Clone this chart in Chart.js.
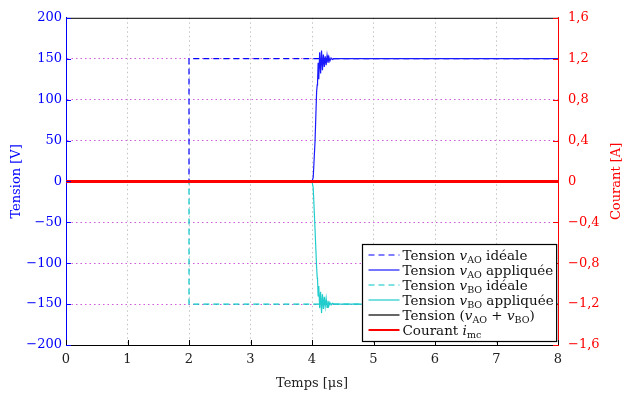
<!DOCTYPE html>
<html><head><meta charset="utf-8">
<script src="https://cdn.jsdelivr.net/npm/chart.js@4/dist/chart.umd.min.js"></script>
<style>html,body{margin:0;padding:0;background:#fff}</style>
</head><body>
<canvas id="c" width="626" height="394"></canvas>
<script>
// ---- data ----
const xTicks = [0,1,2,3,4,5,6,7,8];
const yTicksV = [-200,-150,-100,-50,0,50,100,150,200];
const yLabelsV = ['−200','−150','−100','−50','0','50','100','150','200'];
const yTicksA = [-1.6,-1.2,-0.8,-0.4,0,0.4,0.8,1.2,1.6];
const yLabelsA = ['−1,6','−1,2','−0,8','−0,4','0','0,4','0,8','1,2','1,6'];

const tIdeal   = [0, 2, 2, 8];
const vAOideal = [0, 0, 150, 150];
const vBOideal = [0, 0, -150, -150];

const tApplied   = [0, 4.0, 4.02, 4.05, 4.075, 4.085, 4.09, 4.10, 4.11, 4.125, 4.14, 4.155, 4.17, 4.185, 4.20, 4.215, 4.23, 4.245, 4.26, 4.275, 4.29, 4.31, 4.33, 4.36, 8];
const vAOapplied = [0, 0, 5, 50, 110, 118, 120, 145, 125, 158, 132, 160, 136, 155, 140, 153, 142, 154, 145, 152, 147, 151, 149, 150, 150];
const vBOapplied = [0, 0, -8, -60, -105, -118, -120, -140, -128, -155, -135, -161, -138, -156, -141, -153, -143, -154, -146, -152, -148, -151, -149, -150, -150];

const tSum = [0, 8];
const vSum = [0, 0];
const tCur = [0, 8];
const iCur = [0, 0];

const legendLabels = [
  [['Tension ','r'],['v','i'],['AO','s'],[' idéale','r']],
  [['Tension ','r'],['v','i'],['AO','s'],[' appliquée','r']],
  [['Tension ','r'],['v','i'],['BO','s'],[' idéale','r']],
  [['Tension ','r'],['v','i'],['BO','s'],[' appliquée','r']],
  [['Tension (','r'],['v','i'],['AO','s'],[' + ','r'],['v','i'],['BO','s'],[')','r']],
  [['Courant ','r'],['i','i'],['mc','s']]
];

const pts = (xs, ys) => xs.map((x, i) => ({x, y: ys[i]}));
const FONT = 'DejaVu Serif';
const FS = 13;
const LFS = 13.5;

const BLUE = '#0000ff', CYAN = '#00c4c4', RED = '#ff0000';

const datasets = [
  {data: pts(tCur, iCur), yAxisID: 'y1', borderColor: RED, borderWidth: 3, order: 0, legendIndex: 5},
  {data: pts(tSum, vSum), yAxisID: 'y', borderColor: '#000', borderWidth: 1.2, order: 1, legendIndex: 4},
  {data: pts(tApplied, vAOapplied), yAxisID: 'y', borderColor: '#1a1aff', borderWidth: 1.2, order: 2, legendIndex: 1},
  {data: pts(tApplied, vBOapplied), yAxisID: 'y', borderColor: '#20cccc', borderWidth: 1.2, order: 3, legendIndex: 3},
  {data: pts(tIdeal, vAOideal), yAxisID: 'y', borderColor: BLUE, borderWidth: 1.2, borderDash: [6,4], order: 4, legendIndex: 0},
  {data: pts(tIdeal, vBOideal), yAxisID: 'y', borderColor: CYAN, borderWidth: 1.2, borderDash: [6,4], order: 5, legendIndex: 2}
];
datasets.forEach(d => { d.showLine = true; d.pointRadius = 0; d.fill = false; d.tension = 0; d.legendParts = legendLabels[d.legendIndex]; });

const edgeTransparent = (skip, col) => ctx => (ctx.tick && skip.includes(ctx.tick.value)) ? 'rgba(0,0,0,0)' : col;

const tickPlugin = {
  id: 'innerTicks',
  afterDraw(chart) {
    const {ctx, chartArea: a, scales} = chart;
    ctx.save();
    ctx.lineWidth = 1;
    ctx.strokeStyle = '#000';
    ctx.beginPath(); ctx.moveTo(a.left, a.top + 0.5); ctx.lineTo(a.right, a.top + 0.5); ctx.stroke();
    xTicks.forEach(v => {
      const p = Math.round(scales.x.getPixelForValue(v)) + 0.5;
      ctx.beginPath(); ctx.moveTo(p, a.bottom); ctx.lineTo(p, a.bottom - 5); ctx.stroke();
    });
    ctx.strokeStyle = BLUE;
    yTicksV.forEach(v => {
      const p = Math.round(scales.y.getPixelForValue(v)) + 0.5;
      ctx.beginPath(); ctx.moveTo(a.left, p); ctx.lineTo(a.left + 5, p); ctx.stroke();
    });
    ctx.strokeStyle = RED;
    yTicksA.forEach(v => {
      const p = Math.round(scales.y1.getPixelForValue(v)) + 0.5;
      ctx.beginPath(); ctx.moveTo(a.right, p); ctx.lineTo(a.right - 5, p); ctx.stroke();
    });
    ctx.fillStyle = RED;
    ctx.font = FS + 'px "' + FONT + '"';
    ctx.translate(chart.width - 9, (a.top + a.bottom) / 2);
    ctx.rotate(-Math.PI / 2);
    ctx.textAlign = 'center';
    ctx.textBaseline = 'middle';
    ctx.fillText('Courant [A]', 0, 0);
    ctx.restore();
  }
};

const legendPlugin = {
  id: 'texLegend',
  afterDraw(chart) {
    const {ctx, chartArea: a} = chart;
    const items = chart.data.datasets.slice().sort((p, q) => p.legendIndex - q.legendIndex);
    const fonts = {r: LFS + 'px "' + FONT + '"', i: 'italic ' + LFS + 'px "' + FONT + '"', s: '9.5px "' + FONT + '"'};
    const widthOf = parts => parts.reduce((w, [t, s]) => { ctx.font = fonts[s]; return w + ctx.measureText(t).width; }, 0);
    ctx.save();
    const maxW = Math.max(...items.map(d => widthOf(d.legendParts)));
    const rowH = 15;
    const w = 6 + 31 + 3 + maxW + 3;
    const h = items.length * rowH + 7;
    const x0 = Math.round(a.right - 2 - w) + 0.5;
    const y0 = Math.round(a.bottom - 4 - h) + 0.5;
    ctx.fillStyle = '#fff';
    ctx.fillRect(x0, y0, w, h);
    ctx.strokeStyle = '#000'; ctx.lineWidth = 1.2;
    ctx.strokeRect(x0, y0, w, h);
    items.forEach((d, i) => {
      const cy = y0 + 3 + rowH * (i + 0.5);
      ctx.save();
      ctx.strokeStyle = d.borderColor;
      ctx.lineWidth = Math.min(d.borderWidth, 2);
      ctx.setLineDash(d.borderDash || []);
      ctx.beginPath(); ctx.moveTo(x0 + 6, cy); ctx.lineTo(x0 + 37, cy); ctx.stroke();
      ctx.restore();
      let x = x0 + 40;
      ctx.fillStyle = '#111';
      ctx.textBaseline = 'alphabetic';
      d.legendParts.forEach(([t, s]) => {
        ctx.font = fonts[s];
        ctx.fillText(t, x, cy + (s === 's' ? 7.5 : 4.5));
        x += ctx.measureText(t).width;
      });
    });
    ctx.restore();
  }
};

new Chart(document.getElementById('c'), {
  type: 'scatter',
  data: {datasets},
  options: {
    responsive: false,
    animation: false,
    devicePixelRatio: 1,
    layout: {padding: {top: 15, left: 0, right: 0, bottom: 0}},
    plugins: {legend: {display: false}, tooltip: {enabled: false}},
    scales: {
      x: {
        type: 'linear', min: 0, max: 8,
        afterBuildTicks: s => { s.ticks = xTicks.map(v => ({value: v})); },
        afterFit: s => { s.height = 49; },
        ticks: {color: '#222', font: {family: FONT, size: FS}, padding: 7, maxRotation: 0,
                callback: v => String(v)},
        grid: {color: edgeTransparent([0, 8], '#c4c4c4'), lineWidth: 1, drawTicks: false},
        border: {display: true, color: '#000', width: 1, dash: [1.5, 3]},
        title: {display: true, text: 'Temps [μs]', color: '#222', font: {family: FONT, size: FS}, padding: {top: 0, bottom: 3}}
      },
      y: {
        position: 'left', min: -200, max: 200,
        afterBuildTicks: s => { s.ticks = yTicksV.map(v => ({value: v})); },
        afterFit: s => { s.width = 66; },
        ticks: {color: BLUE, font: {family: FONT, size: FS}, padding: 4,
                callback: (v, i) => yLabelsV[i]},
        grid: {color: edgeTransparent([-200, 0, 200], 'rgb(210,90,220)'), lineWidth: 1, drawTicks: false},
        border: {display: true, color: BLUE, width: 1, dash: [1.5, 3]},
        title: {display: true, text: 'Tension [V]', color: BLUE, font: {family: FONT, size: FS}, padding: {top: 9, bottom: 0}}
      },
      y1: {
        position: 'right', min: -1.6, max: 1.6,
        afterBuildTicks: s => { s.ticks = yTicksA.map(v => ({value: v})); },
        afterFit: s => { s.width = 68; },
        ticks: {color: RED, font: {family: FONT, size: FS}, padding: 10,
                callback: (v, i) => yLabelsA[i]},
        grid: {display: false, drawTicks: false},
        border: {display: true, color: RED, width: 1},
        title: {display: false}
      }
    }
  },
  plugins: [tickPlugin, legendPlugin]
});
</script>
</body></html>
